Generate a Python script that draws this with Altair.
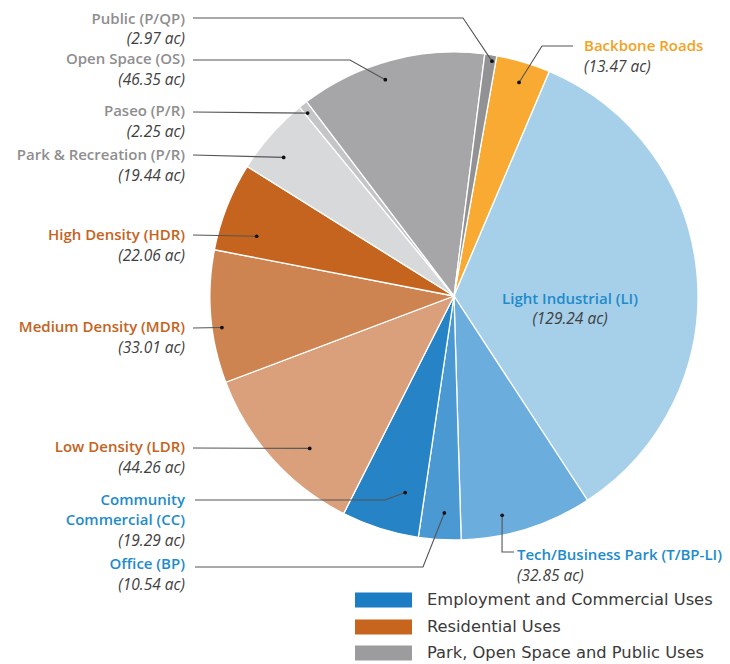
import math
import altair as alt
import pandas as pd

# ---------------- data ----------------
names = ["Backbone Roads", "Light Industrial (LI)", "Tech/Business Park (T/BP-LI)",
         "Office (BP)", "Community Commercial (CC)", "Low Density (LDR)",
         "Medium Density (MDR)", "High Density (HDR)", "Park & Recreation (P/R)",
         "Paseo (P/R)", "Open Space (OS)", "Public (P/QP)"]
acres = [13.47, 129.24, 32.85, 10.54, 19.29, 44.26, 33.01, 22.06, 19.44, 2.25, 46.35, 2.97]
slice_colors = ["#F9AA33", "#A6CFE9", "#6BADDC", "#4A99D3", "#2683C6", "#D9A07B",
                "#CD8450", "#C4641F", "#D8D9DB", "#C4C5C7", "#A6A6A8", "#929294"]
label_colors = ["#F4A21E", "#1E8BCB", "#1E8BCB", "#1E8BCB", "#1E8BCB", "#C5621C",
                "#C5621C", "#C5621C", "#8E8E8E", "#8E8E8E", "#8E8E8E", "#8E8E8E"]
legend_labels = ["Employment and Commercial Uses", "Residential Uses",
                 "Park, Open Space and Public Uses"]
legend_colors = ["#1B7DC4", "#C7641E", "#9C9C9E"]

# ---------------- layout ----------------
W, H = 714, 656
OFF = 8
CX, CY, R = 454, 296, 244
START_DEG = 10.1
FONT = "Open Sans"

# name lines, x, first-line y, align, value y
label_layout = [
    (["Backbone Roads"], 584, 46, "left", 67),
    (["Light Industrial (LI)"], 570, 299, "center", 319),
    (["Tech/Business Park (T/BP-LI)"], 517, 555, "left", 576),
    (["Office (BP)"], 185, 564, "right", 585),
    (["Community", "Commercial (CC)"], 185, 500, "right", 541),
    (["Low Density (LDR)"], 185, 447, "right", 468),
    (["Medium Density (MDR)"], 185, 327, "right", 348),
    (["High Density (HDR)"], 185, 235, "right", 256),
    (["Park & Recreation (P/R)"], 185, 155, "right", 176),
    (["Paseo (P/R)"], 185, 111, "right", 132),
    (["Open Space (OS)"], 185, 59, "right", 80),
    (["Public (P/QP)"], 185, 19, "right", 39),
]

# leader: points from label side to elbow (dot appended), fraction within slice, radius fraction
leaders = [
    ([(573, 46), (542, 46)], 0.53, 0.915),
    (None, 0.5, 0.5),
    ([(514, 552), (502, 552)], 0.66, 0.92),
    ([(195, 567), (423, 567)], 0.42, 0.89),
    ([(195, 500), (385, 500)], 0.30, 0.83),
    ([(193, 448)], 0.39, 0.86),
    ([(193, 328)], 0.41, 0.96),
    ([(193, 235)], 0.28, 0.845),
    ([(193, 155)], 0.38, 0.90),
    ([(193, 112)], 0.30, 0.96),
    ([(193, 60), (350, 60)], 0.44, 0.93),
    ([(193, 18), (463, 18)], 0.68, 0.975),
]

total = sum(acres)
pie_df = pd.DataFrame({"name": names, "acres": acres, "color": slice_colors,
                       "idx": list(range(len(names)))})

# leader lines and dots computed from slice angles
line_rows, dot_rows = [], []
cum = 0.0
for i, v in enumerate(acres):
    pts, frac, rf = leaders[i]
    if pts is not None:
        ang = math.radians(START_DEG + (cum + frac * v) * 360.0 / total)
        dx = CX + rf * R * math.sin(ang)
        dy = CY - rf * R * math.cos(ang)
        for k, (px, py) in enumerate(pts + [(dx, dy)]):
            line_rows.append({"id": i, "o": k, "x": px, "y": py})
        dot_rows.append({"x": dx, "y": dy})
    cum += v
line_df = pd.DataFrame(line_rows)
dot_df = pd.DataFrame(dot_rows)

text_rows = []
for i, (lines, x, y, align, vy) in enumerate(label_layout):
    for k, ln in enumerate(lines):
        text_rows.append({"x": x, "y": y + 20 * k, "t": ln, "c": label_colors[i],
                          "align": align, "kind": "name"})
    text_rows.append({"x": x, "y": vy, "t": f"({acres[i]:.2f} ac)", "c": "#404040",
                      "align": align, "kind": "value"})
text_df = pd.DataFrame(text_rows)

leg_df = pd.DataFrame({"label": legend_labels, "color": legend_colors,
                       "yc": [600, 627, 653]})
leg_df["y1"] = leg_df["yc"] - 7.5
leg_df["y2"] = leg_df["yc"] + 7.5
leg_df["x1"] = 355
leg_df["x2"] = 412
leg_df["tx"] = 427

xs = alt.Scale(domain=[OFF, OFF + W])
ys = alt.Scale(domain=[OFF, OFF + H], reverse=True)

pie = alt.Chart(pie_df).mark_arc(outerRadius=R, stroke="white", strokeWidth=1.3).encode(
    theta=alt.Theta("acres:Q", stack=True,
                    scale=alt.Scale(range=[math.radians(START_DEG),
                                           math.radians(START_DEG) + 2 * math.pi])),
    color=alt.Color("color:N", scale=None),
    order=alt.Order("idx:Q"),
    x=alt.value(CX - OFF), y=alt.value(CY - OFF),
)

lines = alt.Chart(line_df).mark_line(color="#555555", strokeWidth=1.1).encode(
    x=alt.X("x:Q", scale=xs, axis=None), y=alt.Y("y:Q", scale=ys, axis=None),
    detail="id:N", order="o:Q")

dots = alt.Chart(dot_df).mark_circle(color="#111111", size=14, opacity=1).encode(
    x=alt.X("x:Q", scale=xs, axis=None), y=alt.Y("y:Q", scale=ys, axis=None))

layers = [pie, lines, dots]
for align in ["left", "right", "center"]:
    for kind in ["name", "value"]:
        sub = text_df[(text_df["align"] == align) & (text_df["kind"] == kind)]
        if len(sub) == 0:
            continue
        if kind == "name":
            mk = alt.Chart(sub).mark_text(align=align, baseline="middle", font=FONT,
                                          fontSize=15, fontWeight=600)
        else:
            mk = alt.Chart(sub).mark_text(align=align, baseline="middle", font=FONT,
                                          fontSize=15.5, fontStyle="italic")
        layers.append(mk.encode(
            x=alt.X("x:Q", scale=xs, axis=None), y=alt.Y("y:Q", scale=ys, axis=None),
            text="t:N", color=alt.Color("c:N", scale=None)))

leg_rect = alt.Chart(leg_df).mark_rect().encode(
    x=alt.X("x1:Q", scale=xs, axis=None), x2="x2:Q",
    y=alt.Y("y1:Q", scale=ys, axis=None), y2="y2:Q",
    color=alt.Color("color:N", scale=None))
leg_text = alt.Chart(leg_df).mark_text(align="left", baseline="middle", font="DejaVu Sans",
                                       fontSize=16.3, color="#3A3A3A").encode(
    x=alt.X("tx:Q", scale=xs, axis=None), y=alt.Y("yc:Q", scale=ys, axis=None),
    text="label:N")
layers += [leg_rect, leg_text]

chart = alt.layer(*layers).properties(
    width=W, height=H, padding=0, autosize=alt.AutoSizeParams(type="none")
).configure_view(stroke=None)

chart.save("out.html", embed_options={"renderer": "svg", "actions": False})
